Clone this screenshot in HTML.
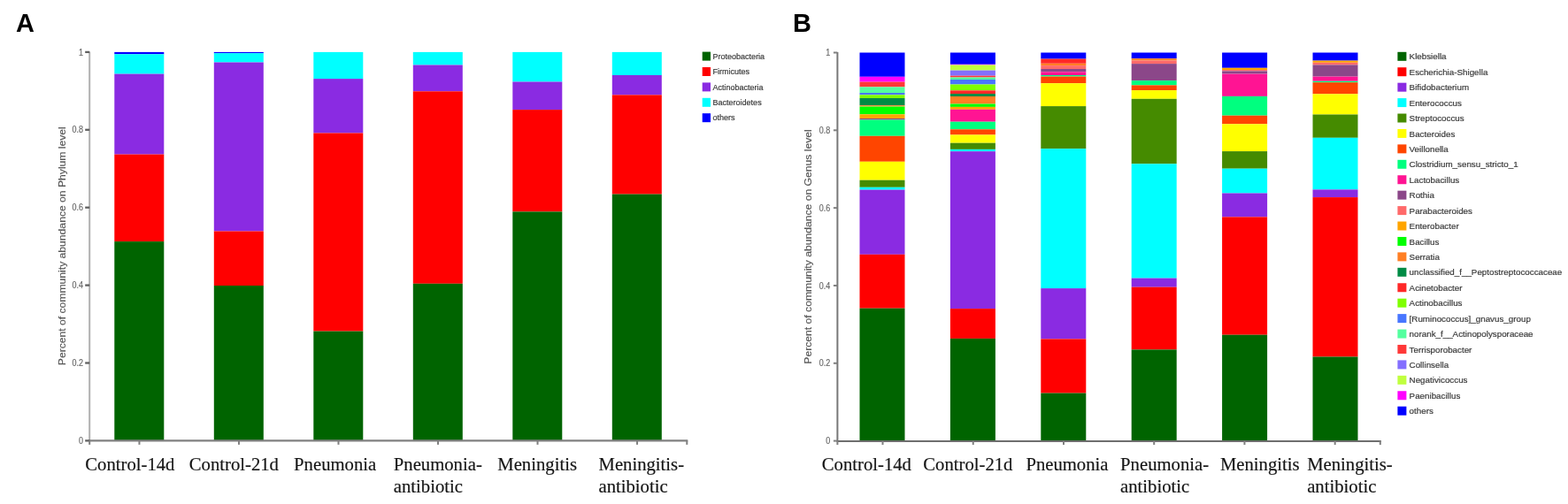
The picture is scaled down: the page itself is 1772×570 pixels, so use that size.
<!DOCTYPE html>
<html><head><meta charset="utf-8"><title>Community abundance</title>
<style>
html,body{margin:0;padding:0;background:#fff;}
body{width:1772px;height:570px;overflow:hidden;}
svg{display:block;filter:blur(0.45px);}
.pl{font-family:"Liberation Sans",Arial,sans-serif;font-weight:bold;font-size:30px;fill:#000;}
.ax{stroke:#808080;stroke-width:2;fill:none;}
.tk{font-family:"Liberation Sans",Arial,sans-serif;font-size:10px;fill:#666;stroke:#666;stroke-width:0.15px;}
.tkb{font-family:"Liberation Sans",Arial,sans-serif;font-size:9px;fill:#555;}
.yt{font-family:"Liberation Sans",Arial,sans-serif;font-size:10.8px;fill:#555;stroke:#555;stroke-width:0.15px;}
.xl{font-family:"Liberation Serif","Times New Roman",serif;font-size:20.7px;fill:#151515;stroke:#151515;stroke-width:0.18px;}
.lg{font-family:"Liberation Sans",Arial,sans-serif;font-size:9px;fill:#3a3a3a;stroke:#3a3a3a;stroke-width:0.2px;}
.lgb{font-family:"Liberation Sans",Arial,sans-serif;font-size:9.8px;fill:#3a3a3a;stroke:#3a3a3a;stroke-width:0.2px;}
</style></head>
<body><svg width="1772" height="570" viewBox="0 0 1772 570">
<rect width="1772" height="570" fill="#fff"/>
<text transform="translate(17.9 35.9) scale(0.965 1)" class="pl">A</text>
<rect x="129.3" y="58.9" width="56" height="2.4" fill="#0000FF"/>
<rect x="129.3" y="61.3" width="56" height="22.3" fill="#00FFFF"/>
<rect x="129.3" y="83.6" width="56" height="91" fill="#8A2BE2"/>
<rect x="129.3" y="174.6" width="56" height="98.5" fill="#FF0000"/>
<rect x="129.3" y="273.1" width="56" height="225.3" fill="#006400"/>
<rect x="241.8" y="58.9" width="56" height="1.3" fill="#0000FF"/>
<rect x="241.8" y="60.2" width="56" height="10.3" fill="#00FFFF"/>
<rect x="241.8" y="70.5" width="56" height="191" fill="#8A2BE2"/>
<rect x="241.8" y="261.5" width="56" height="61.5" fill="#FF0000"/>
<rect x="241.8" y="323" width="56" height="175.4" fill="#006400"/>
<rect x="354.3" y="58.9" width="56" height="30.2" fill="#00FFFF"/>
<rect x="354.3" y="89.1" width="56" height="61.4" fill="#8A2BE2"/>
<rect x="354.3" y="150.5" width="56" height="224.1" fill="#FF0000"/>
<rect x="354.3" y="374.6" width="56" height="123.8" fill="#006400"/>
<rect x="466.8" y="58.9" width="56" height="14.6" fill="#00FFFF"/>
<rect x="466.8" y="73.5" width="56" height="29.8" fill="#8A2BE2"/>
<rect x="466.8" y="103.3" width="56" height="217.5" fill="#FF0000"/>
<rect x="466.8" y="320.8" width="56" height="177.6" fill="#006400"/>
<rect x="579.3" y="58.9" width="56" height="33.6" fill="#00FFFF"/>
<rect x="579.3" y="92.5" width="56" height="31.6" fill="#8A2BE2"/>
<rect x="579.3" y="124.1" width="56" height="115.3" fill="#FF0000"/>
<rect x="579.3" y="239.4" width="56" height="259" fill="#006400"/>
<rect x="691.8" y="58.9" width="56" height="26.1" fill="#00FFFF"/>
<rect x="691.8" y="85" width="56" height="22.4" fill="#8A2BE2"/>
<rect x="691.8" y="107.4" width="56" height="112.2" fill="#FF0000"/>
<rect x="691.8" y="219.6" width="56" height="278.8" fill="#006400"/>
<path d="M101.2 58.4 V498.4" class="ax" style="stroke:#b0b0b0"/>
<path d="M100.2 498.3 H777.3" class="ax" style="stroke:#808080;stroke-width:2.2px"/>
<path d="M96.2 498.4 H101.2" class="ax" style="stroke:#606060;stroke-width:2.3px"/>
<text transform="translate(94.1 502) scale(0.9 1)" class="tk" text-anchor="end">0</text>
<path d="M96.2 410.5 H101.2" class="ax" style="stroke:#606060;stroke-width:2.3px"/>
<text transform="translate(94.1 414.1) scale(0.9 1)" class="tk" text-anchor="end">0.2</text>
<path d="M96.2 322.6 H101.2" class="ax" style="stroke:#606060;stroke-width:2.3px"/>
<text transform="translate(94.1 326.2) scale(0.9 1)" class="tk" text-anchor="end">0.4</text>
<path d="M96.2 234.7 H101.2" class="ax" style="stroke:#606060;stroke-width:2.3px"/>
<text transform="translate(94.1 238.3) scale(0.9 1)" class="tk" text-anchor="end">0.6</text>
<path d="M96.2 146.8 H101.2" class="ax" style="stroke:#606060;stroke-width:2.3px"/>
<text transform="translate(94.1 150.4) scale(0.9 1)" class="tk" text-anchor="end">0.8</text>
<path d="M96.2 58.9 H101.2" class="ax" style="stroke:#606060;stroke-width:2.3px"/>
<text transform="translate(94.1 62.5) scale(0.9 1)" class="tk" text-anchor="end">1</text>
<path d="M157.46 498.4 V502.9" class="ax"/>
<path d="M269.97 498.4 V502.9" class="ax"/>
<path d="M382.49 498.4 V502.9" class="ax"/>
<path d="M495.01 498.4 V502.9" class="ax"/>
<path d="M607.52 498.4 V502.9" class="ax"/>
<path d="M720.04 498.4 V502.9" class="ax"/>
<path d="M776.3 498.4 V502.9" class="ax"/>
<path d="M101.2 498.4 V502.9" class="ax"/>
<text transform="translate(74.2 278.2) rotate(-90)" class="yt" text-anchor="middle" textLength="270" lengthAdjust="spacingAndGlyphs">Percent of community abundance on Phylum level</text>
<text x="96.3" y="532.3" class="xl">Control-14d</text>
<text x="213.8" y="532.3" class="xl">Control-21d</text>
<text x="332.1" y="532.3" class="xl">Pneumonia</text>
<text x="444.8" y="532.3" class="xl">Pneumonia-</text>
<text x="444.8" y="557.3" class="xl">antibiotic</text>
<text x="562.3" y="532.3" class="xl">Meningitis</text>
<text x="676.5" y="532.3" class="xl">Meningitis-</text>
<text x="676.5" y="557.3" class="xl">antibiotic</text>
<rect x="793.7" y="58.6" width="9.3" height="10" fill="#006400"/>
<text x="805.6" y="66.8" class="lg">Proteobacteria</text>
<rect x="793.7" y="76" width="9.3" height="10" fill="#FF0000"/>
<text x="805.6" y="84.2" class="lg">Firmicutes</text>
<rect x="793.7" y="93.4" width="9.3" height="10" fill="#8A2BE2"/>
<text x="805.6" y="101.6" class="lg">Actinobacteria</text>
<rect x="793.7" y="110.8" width="9.3" height="10" fill="#00FFFF"/>
<text x="805.6" y="119" class="lg">Bacteroidetes</text>
<rect x="793.7" y="128.2" width="9.3" height="10" fill="#0000FF"/>
<text x="805.6" y="136.4" class="lg">others</text>
<text transform="translate(896 35.8) scale(0.965 1)" class="pl">B</text>
<rect x="971.5" y="59.5" width="51" height="27.3" fill="#0000FF"/>
<rect x="971.5" y="86.8" width="51" height="5.8" fill="#FF00FF"/>
<rect x="971.5" y="92.6" width="51" height="5.8" fill="#FF3838"/>
<rect x="971.5" y="98.4" width="51" height="6.6" fill="#54FF9F"/>
<rect x="971.5" y="105" width="51" height="2.3" fill="#4876FF"/>
<rect x="971.5" y="107.3" width="51" height="3.7" fill="#7FFF00"/>
<rect x="971.5" y="111" width="51" height="8.2" fill="#008B45"/>
<rect x="971.5" y="119.2" width="51" height="1.3" fill="#FF7F24"/>
<rect x="971.5" y="120.5" width="51" height="8.8" fill="#00FF00"/>
<rect x="971.5" y="129.3" width="51" height="4.7" fill="#FFA500"/>
<rect x="971.5" y="134" width="51" height="1.5" fill="#8B4789"/>
<rect x="971.5" y="135.5" width="51" height="18.3" fill="#00FF7F"/>
<rect x="971.5" y="153.8" width="51" height="29" fill="#FF4500"/>
<rect x="971.5" y="182.8" width="51" height="20.9" fill="#FFFF00"/>
<rect x="971.5" y="203.7" width="51" height="8.1" fill="#458B00"/>
<rect x="971.5" y="211.8" width="51" height="2.8" fill="#00FFFF"/>
<rect x="971.5" y="214.6" width="51" height="73.2" fill="#8A2BE2"/>
<rect x="971.5" y="287.8" width="51" height="60.9" fill="#FF0000"/>
<rect x="971.5" y="348.7" width="51" height="149.9" fill="#006400"/>
<rect x="1073.9" y="59.5" width="51" height="13.3" fill="#0000FF"/>
<rect x="1073.9" y="72.8" width="51" height="0.7" fill="#FF00FF"/>
<rect x="1073.9" y="73.5" width="51" height="6.1" fill="#C0FF3E"/>
<rect x="1073.9" y="79.6" width="51" height="6.1" fill="#836FFF"/>
<rect x="1073.9" y="85.7" width="51" height="1.8" fill="#FF3838"/>
<rect x="1073.9" y="87.5" width="51" height="2.5" fill="#54FF9F"/>
<rect x="1073.9" y="90" width="51" height="5.5" fill="#4876FF"/>
<rect x="1073.9" y="95.5" width="51" height="6.8" fill="#7FFF00"/>
<rect x="1073.9" y="102.3" width="51" height="3.7" fill="#FF2828"/>
<rect x="1073.9" y="106" width="51" height="3" fill="#008B45"/>
<rect x="1073.9" y="109" width="51" height="8.5" fill="#FF7F24"/>
<rect x="1073.9" y="117.5" width="51" height="3.4" fill="#00FF00"/>
<rect x="1073.9" y="120.9" width="51" height="2.9" fill="#FFA500"/>
<rect x="1073.9" y="123.8" width="51" height="13.9" fill="#FF1493"/>
<rect x="1073.9" y="137.7" width="51" height="8.6" fill="#00FF7F"/>
<rect x="1073.9" y="146.3" width="51" height="6.2" fill="#FF4500"/>
<rect x="1073.9" y="152.5" width="51" height="9.2" fill="#FFFF00"/>
<rect x="1073.9" y="161.7" width="51" height="7.2" fill="#458B00"/>
<rect x="1073.9" y="168.9" width="51" height="2.3" fill="#00FFFF"/>
<rect x="1073.9" y="171.2" width="51" height="177.9" fill="#8A2BE2"/>
<rect x="1073.9" y="349.1" width="51" height="33.8" fill="#FF0000"/>
<rect x="1073.9" y="382.9" width="51" height="115.7" fill="#006400"/>
<rect x="1176.3" y="59.5" width="51" height="7.1" fill="#0000FF"/>
<rect x="1176.3" y="66.6" width="51" height="5.2" fill="#FF2828"/>
<rect x="1176.3" y="71.8" width="51" height="2.3" fill="#FF7F24"/>
<rect x="1176.3" y="74.1" width="51" height="3.9" fill="#FF6A6A"/>
<rect x="1176.3" y="78" width="51" height="3.3" fill="#8B4789"/>
<rect x="1176.3" y="81.3" width="51" height="3.7" fill="#FF1493"/>
<rect x="1176.3" y="85" width="51" height="1.5" fill="#00FF7F"/>
<rect x="1176.3" y="86.5" width="51" height="7.7" fill="#FF4500"/>
<rect x="1176.3" y="94.2" width="51" height="25.9" fill="#FFFF00"/>
<rect x="1176.3" y="120.1" width="51" height="48.1" fill="#458B00"/>
<rect x="1176.3" y="168.2" width="51" height="157.9" fill="#00FFFF"/>
<rect x="1176.3" y="326.1" width="51" height="57.3" fill="#8A2BE2"/>
<rect x="1176.3" y="383.4" width="51" height="61.2" fill="#FF0000"/>
<rect x="1176.3" y="444.6" width="51" height="54" fill="#006400"/>
<rect x="1278.7" y="59.5" width="51" height="6.7" fill="#0000FF"/>
<rect x="1278.7" y="66.2" width="51" height="2.3" fill="#FF7F24"/>
<rect x="1278.7" y="68.5" width="51" height="3.6" fill="#FF6A6A"/>
<rect x="1278.7" y="72.1" width="51" height="19.1" fill="#8B4789"/>
<rect x="1278.7" y="91.2" width="51" height="5.2" fill="#00FF7F"/>
<rect x="1278.7" y="96.4" width="51" height="5.7" fill="#FF4500"/>
<rect x="1278.7" y="102.1" width="51" height="9.7" fill="#FFFF00"/>
<rect x="1278.7" y="111.8" width="51" height="73.5" fill="#458B00"/>
<rect x="1278.7" y="185.3" width="51" height="129.3" fill="#00FFFF"/>
<rect x="1278.7" y="314.6" width="51" height="10.1" fill="#8A2BE2"/>
<rect x="1278.7" y="324.7" width="51" height="70.7" fill="#FF0000"/>
<rect x="1278.7" y="395.4" width="51" height="103.2" fill="#006400"/>
<rect x="1381.1" y="59.5" width="51" height="17.3" fill="#0000FF"/>
<rect x="1381.1" y="76.8" width="51" height="2.2" fill="#FFA500"/>
<rect x="1381.1" y="79" width="51" height="1.4" fill="#FF6A6A"/>
<rect x="1381.1" y="80.4" width="51" height="3.2" fill="#8B4789"/>
<rect x="1381.1" y="83.6" width="51" height="25.3" fill="#FF1493"/>
<rect x="1381.1" y="108.9" width="51" height="21.8" fill="#00FF7F"/>
<rect x="1381.1" y="130.7" width="51" height="9.6" fill="#FF4500"/>
<rect x="1381.1" y="140.3" width="51" height="30.8" fill="#FFFF00"/>
<rect x="1381.1" y="171.1" width="51" height="19.6" fill="#458B00"/>
<rect x="1381.1" y="190.7" width="51" height="27.8" fill="#00FFFF"/>
<rect x="1381.1" y="218.5" width="51" height="26.9" fill="#8A2BE2"/>
<rect x="1381.1" y="245.4" width="51" height="133.3" fill="#FF0000"/>
<rect x="1381.1" y="378.7" width="51" height="119.9" fill="#006400"/>
<rect x="1483.5" y="59.5" width="51" height="9.1" fill="#0000FF"/>
<rect x="1483.5" y="68.6" width="51" height="2.2" fill="#FFA500"/>
<rect x="1483.5" y="70.8" width="51" height="2.6" fill="#FF6A6A"/>
<rect x="1483.5" y="73.4" width="51" height="13.2" fill="#8B4789"/>
<rect x="1483.5" y="86.6" width="51" height="5.2" fill="#FF1493"/>
<rect x="1483.5" y="91.8" width="51" height="1.4" fill="#00FF7F"/>
<rect x="1483.5" y="93.2" width="51" height="13.1" fill="#FF4500"/>
<rect x="1483.5" y="106.3" width="51" height="23.2" fill="#FFFF00"/>
<rect x="1483.5" y="129.5" width="51" height="26.3" fill="#458B00"/>
<rect x="1483.5" y="155.8" width="51" height="58.6" fill="#00FFFF"/>
<rect x="1483.5" y="214.4" width="51" height="8.7" fill="#8A2BE2"/>
<rect x="1483.5" y="223.1" width="51" height="180.4" fill="#FF0000"/>
<rect x="1483.5" y="403.5" width="51" height="95.1" fill="#006400"/>
<path d="M946.4 59 V498.9" class="ax" style="stroke:#777"/>
<path d="M945.4 498.9 H1560.8" class="ax" style="stroke:#6e6e6e"/>
<path d="M941.9 498.6 H946.4" class="ax"/>
<text transform="translate(938.3 502.2) scale(0.9 1)" class="tk" text-anchor="end">0</text>
<path d="M941.9 410.78 H946.4" class="ax"/>
<text transform="translate(938.3 414.38) scale(0.9 1)" class="tk" text-anchor="end">0.2</text>
<path d="M941.9 322.96 H946.4" class="ax"/>
<text transform="translate(938.3 326.56) scale(0.9 1)" class="tk" text-anchor="end">0.4</text>
<path d="M941.9 235.14 H946.4" class="ax"/>
<text transform="translate(938.3 238.74) scale(0.9 1)" class="tk" text-anchor="end">0.6</text>
<path d="M941.9 147.32 H946.4" class="ax"/>
<text transform="translate(938.3 150.92) scale(0.9 1)" class="tk" text-anchor="end">0.8</text>
<path d="M941.9 59.5 H946.4" class="ax"/>
<text transform="translate(938.3 63.1) scale(0.9 1)" class="tk" text-anchor="end">1</text>
<path d="M997.52 498.6 V503.1" class="ax"/>
<path d="M1099.75 498.6 V503.1" class="ax"/>
<path d="M1201.98 498.6 V503.1" class="ax"/>
<path d="M1304.22 498.6 V503.1" class="ax"/>
<path d="M1406.45 498.6 V503.1" class="ax"/>
<path d="M1508.68 498.6 V503.1" class="ax"/>
<path d="M1559.8 498.6 V503.1" class="ax"/>
<path d="M946.4 498.6 V503.1" class="ax"/>
<text transform="translate(916.8 279) rotate(-90)" class="yt" text-anchor="middle" textLength="265.3" lengthAdjust="spacingAndGlyphs">Percent of community abundance on Genus level</text>
<text x="928.8" y="532.3" class="xl">Control-14d</text>
<text x="1043.3" y="532.3" class="xl">Control-21d</text>
<text x="1159.4" y="532.3" class="xl">Pneumonia</text>
<text x="1266.1" y="532.3" class="xl">Pneumonia-</text>
<text x="1266.1" y="557.3" class="xl">antibiotic</text>
<text x="1378.9" y="532.3" class="xl">Meningitis</text>
<text x="1477.2" y="532.3" class="xl">Meningitis-</text>
<text x="1477.2" y="557.3" class="xl">antibiotic</text>
<rect x="1579.4" y="58.8" width="10" height="10" fill="#006400"/>
<text x="1592.6" y="67.4" class="lgb">Klebsiella</text>
<rect x="1579.4" y="76.23" width="10" height="10" fill="#FF0000"/>
<text x="1592.6" y="84.83" class="lgb">Escherichia-Shigella</text>
<rect x="1579.4" y="93.66" width="10" height="10" fill="#8A2BE2"/>
<text x="1592.6" y="102.26" class="lgb">Bifidobacterium</text>
<rect x="1579.4" y="111.09" width="10" height="10" fill="#00FFFF"/>
<text x="1592.6" y="119.69" class="lgb">Enterococcus</text>
<rect x="1579.4" y="128.52" width="10" height="10" fill="#458B00"/>
<text x="1592.6" y="137.12" class="lgb">Streptococcus</text>
<rect x="1579.4" y="145.95" width="10" height="10" fill="#FFFF00"/>
<text x="1592.6" y="154.55" class="lgb">Bacteroides</text>
<rect x="1579.4" y="163.38" width="10" height="10" fill="#FF4500"/>
<text x="1592.6" y="171.98" class="lgb">Veillonella</text>
<rect x="1579.4" y="180.81" width="10" height="10" fill="#00FF7F"/>
<text x="1592.6" y="189.41" class="lgb">Clostridium_sensu_stricto_1</text>
<rect x="1579.4" y="198.24" width="10" height="10" fill="#FF1493"/>
<text x="1592.6" y="206.84" class="lgb">Lactobacillus</text>
<rect x="1579.4" y="215.67" width="10" height="10" fill="#8B4789"/>
<text x="1592.6" y="224.27" class="lgb">Rothia</text>
<rect x="1579.4" y="233.1" width="10" height="10" fill="#FF6A6A"/>
<text x="1592.6" y="241.7" class="lgb">Parabacteroides</text>
<rect x="1579.4" y="250.53" width="10" height="10" fill="#FFA500"/>
<text x="1592.6" y="259.13" class="lgb">Enterobacter</text>
<rect x="1579.4" y="267.96" width="10" height="10" fill="#00FF00"/>
<text x="1592.6" y="276.56" class="lgb">Bacillus</text>
<rect x="1579.4" y="285.39" width="10" height="10" fill="#FF7F24"/>
<text x="1592.6" y="293.99" class="lgb">Serratia</text>
<rect x="1579.4" y="302.82" width="10" height="10" fill="#008B45"/>
<text x="1592.6" y="311.42" class="lgb">unclassified_f__Peptostreptococcaceae</text>
<rect x="1579.4" y="320.25" width="10" height="10" fill="#FF2828"/>
<text x="1592.6" y="328.85" class="lgb">Acinetobacter</text>
<rect x="1579.4" y="337.68" width="10" height="10" fill="#7FFF00"/>
<text x="1592.6" y="346.28" class="lgb">Actinobacillus</text>
<rect x="1579.4" y="355.11" width="10" height="10" fill="#4876FF"/>
<text x="1592.6" y="363.71" class="lgb">[Ruminococcus]_gnavus_group</text>
<rect x="1579.4" y="372.54" width="10" height="10" fill="#54FF9F"/>
<text x="1592.6" y="381.14" class="lgb">norank_f__Actinopolysporaceae</text>
<rect x="1579.4" y="389.97" width="10" height="10" fill="#FF3838"/>
<text x="1592.6" y="398.57" class="lgb">Terrisporobacter</text>
<rect x="1579.4" y="407.4" width="10" height="10" fill="#836FFF"/>
<text x="1592.6" y="416" class="lgb">Collinsella</text>
<rect x="1579.4" y="424.83" width="10" height="10" fill="#C0FF3E"/>
<text x="1592.6" y="433.43" class="lgb">Negativicoccus</text>
<rect x="1579.4" y="442.26" width="10" height="10" fill="#FF00FF"/>
<text x="1592.6" y="450.86" class="lgb">Paenibacillus</text>
<rect x="1579.4" y="459.69" width="10" height="10" fill="#0000FF"/>
<text x="1592.6" y="468.29" class="lgb">others</text>
</svg></body></html>
